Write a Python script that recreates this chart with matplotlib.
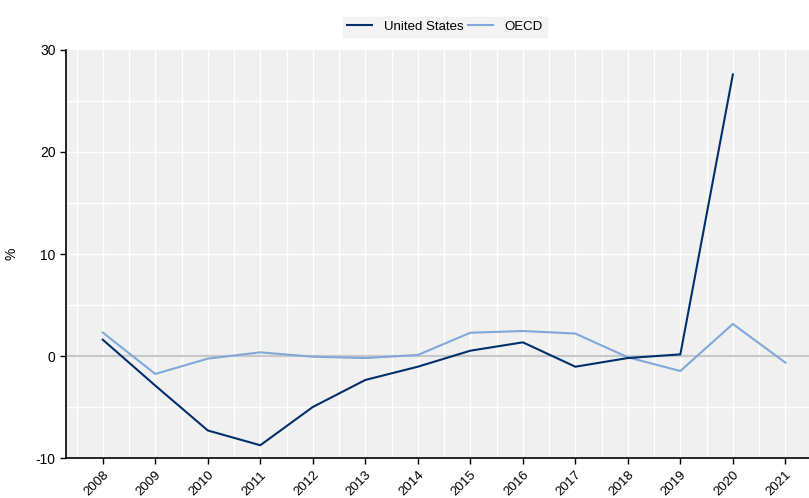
import matplotlib
matplotlib.use("Agg")
import matplotlib.pyplot as plt
import numpy as np

plt.rcParams['font.family'] = ['Liberation Sans', 'DejaVu Sans']

years = [2008, 2009, 2010, 2011, 2012, 2013, 2014, 2015, 2016, 2017, 2018, 2019, 2020, 2021]
us_years = years[:-1]
us = [1.6, -2.9, -7.3, -8.75, -5.0, -2.35, -1.05, 0.52, 1.34, -1.05, -0.2, 0.16, 27.6]
oecd = [2.3, -1.76, -0.26, 0.36, -0.07, -0.2, 0.1, 2.28, 2.45, 2.2, -0.13, -1.47, 3.14, -0.65]

fig = plt.figure(figsize=(8.09, 4.98), dpi=100)
ax = fig.add_axes([66/809, 1-458/498, 1-66/809, (458-50)/498])
ax.set_facecolor('#f0f0f0')

ax.set_xlim(2007.3, 2021.45)
ax.set_ylim(-10, 30)

# grid
for x in np.arange(2007.5, 2021.6, 0.5):
    ax.axvline(x, color='white', lw=1.0, zorder=1)
for y in np.arange(-5, 30, 5):
    ax.axhline(y, color='white', lw=1.0, zorder=1)
ax.axhline(0, color='#c8c8c8', lw=1.6, zorder=2)

ax.plot(us_years, us, color='#002f6c', lw=1.5, label='United States', zorder=4)
ax.plot(years, oecd, color='#7fa8d9', lw=1.5, label='OECD', zorder=3)

ax.set_xticks(years)
ax.set_xticklabels([str(y) for y in years], rotation=45, ha='right', rotation_mode='anchor', fontsize=9.5)
ax.set_yticks([-10, 0, 10, 20, 30])
ax.set_yticklabels(['-10', '0', '10', '20', '30'], fontsize=10)
ax.tick_params(axis='x', length=4, width=1, color='black', pad=4)
ax.tick_params(axis='y', length=4, width=1, color='black')
for s in ['top', 'right']:
    ax.spines[s].set_visible(False)
for s in ['left', 'bottom']:
    ax.spines[s].set_color('black')
    ax.spines[s].set_linewidth(1.2)
ax.set_ylabel('%', fontsize=10, labelpad=12)

leg = fig.legend(loc='center', bbox_to_anchor=(445/809, 1-27/498), ncol=2, frameon=True,
                 fontsize=9.5, handlelength=1.9, columnspacing=0.3, handletextpad=0.9,
                 borderpad=0.3)
leg.get_frame().set_facecolor('#f0f0f0')
leg.get_frame().set_edgecolor('#f0f0f0')
leg.get_frame().set_boxstyle('square', pad=0)

fig.savefig('out.png', dpi=100)
